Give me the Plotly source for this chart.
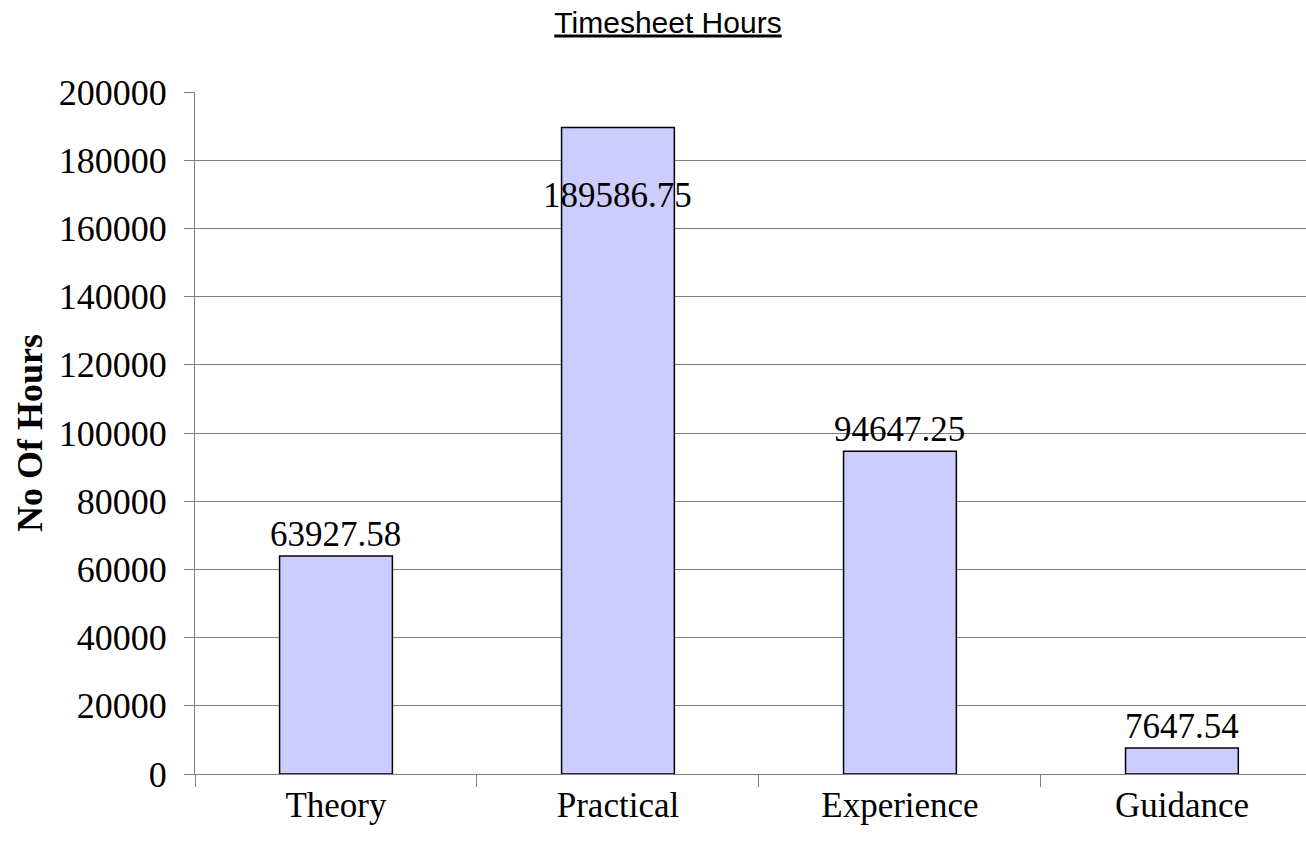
import plotly.graph_objects as go

categories = ["Theory", "Practical", "Experience", "Guidance"]
hours = [63927.58, 189586.75, 94647.25, 7647.54]
label_texts = ["63927.58", "189586.75", "94647.25", "7647.54"]
label_inside = [False, True, False, False]
y_ticks = [0, 20000, 40000, 60000, 80000, 100000, 120000, 140000, 160000, 180000, 200000]

fig = go.Figure()
fig.add_trace(go.Bar(
    x=categories, y=hours, width=0.4,
    marker=dict(color="#CCCCFF", line=dict(color="#000000", width=1.5)),
    hoverinfo="skip",
))

for c, v, t, inside in zip(categories, hours, label_texts, label_inside):
    fig.add_annotation(
        x=c, y=v, text=t, showarrow=False,
        yanchor="top" if inside else "bottom",
        yshift=-46 if inside else 0,
        font=dict(family="Liberation Serif", size=35, color="#000000"),
    )

fig.update_layout(
    width=1306, height=847,
    margin=dict(l=195, r=0, t=92, b=73),
    paper_bgcolor="white", plot_bgcolor="white",
    showlegend=False,
    bargap=0.6,
    title=dict(
        text="<u>Timesheet Hours</u>",
        x=668 / 1306, xanchor="center", y=1 - 22 / 847, yanchor="middle",
        font=dict(family="Liberation Sans", size=30, color="#000000"),
        automargin=False,
    ),
)
fig.update_xaxes(
    type="category", range=[-0.5, 3.44], automargin=False,
    tickson="boundaries", ticks="outside", ticklen=12, tickcolor="#808080", tickwidth=1,
    showline=True, linecolor="#808080", linewidth=1,
    showgrid=False,
    tickfont=dict(family="Liberation Serif", size=35, color="#000000"),
)
fig.update_yaxes(
    range=[0, 200000], tickvals=y_ticks, ticktext=[str(v) for v in y_ticks],
    automargin=False,
    ticks="outside", ticklen=10, tickcolor="#808080", tickwidth=1,
    ticklabelstandoff=10,
    showline=True, linecolor="#808080", linewidth=1,
    showgrid=True, gridcolor="#808080", gridwidth=1,
    zeroline=False,
    tickfont=dict(family="Liberation Serif", size=36, color="#000000"),
    title=dict(text="<b>No Of Hours</b>", standoff=5,
               font=dict(family="Liberation Serif", size=36, color="#000000")),
)

fig.write_html(
    "out.html",
    config={"displayModeBar": False},
    post_script="document.body.style.margin='0';document.body.style.overflow='hidden';",
)
